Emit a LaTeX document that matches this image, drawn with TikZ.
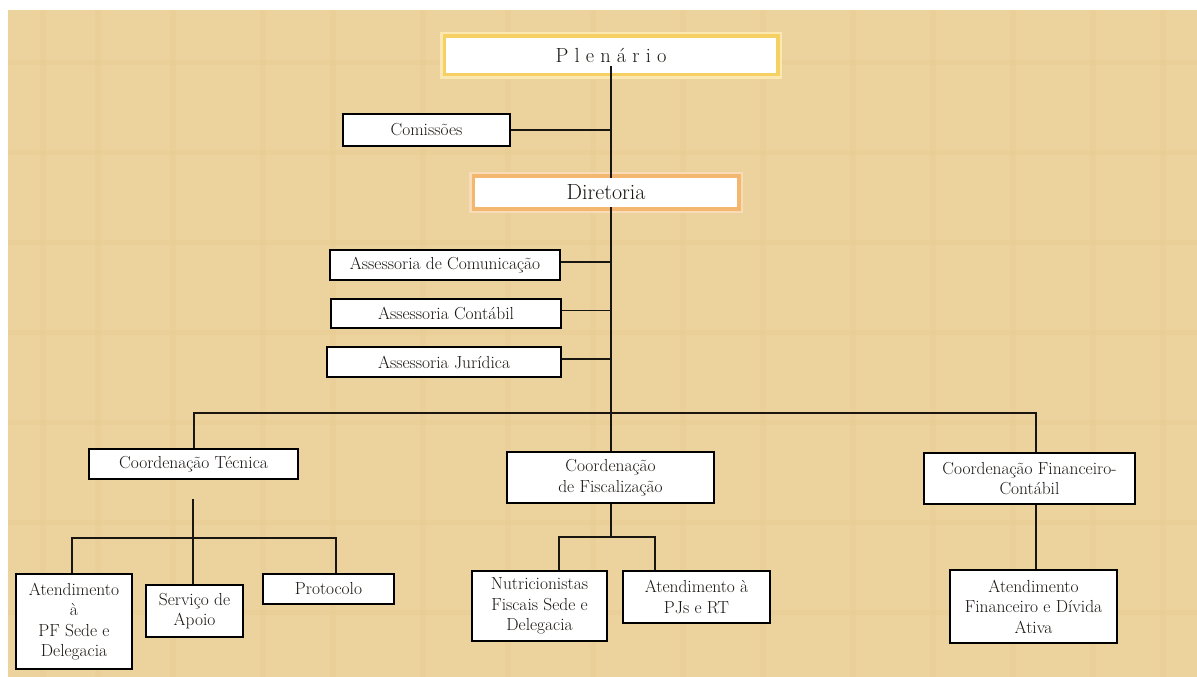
\documentclass[tikz,border=0pt]{standalone}
\usepackage{fontspec}
\definecolor{parch}{RGB}{236,210,156}
\definecolor{parchdark}{RGB}{222,188,125}
\definecolor{glowY}{RGB}{244,196,60}
\definecolor{glowO}{RGB}{240,165,75}
\definecolor{ink}{RGB}{25,22,18}
\begin{document}
\begin{tikzpicture}[x=1bp,y=-1bp,
  box/.style={draw=black, line width=1.6bp, fill=white, inner sep=2bp, align=center,
    text=ink, font=\fontsize{17.5}{20.5}\selectfont},
  glowbox/.style={fill=white, inner sep=2bp, align=center, text=ink,
    preaction={draw=#1!40, line width=12bp},
    preaction={draw=#1!80, line width=7bp}},
  conn/.style={draw=ink, line width=1.1bp}
]
\useasboundingbox (0,0) rectangle (1197,677);
\fill[white] (0,0) rectangle (1197,677);
\fill[parch] (8,10) rectangle (1197,677);
% subtle texture
\foreach \x in {40,95,170,260,330,420,505,590,680,760,850,930,1010,1090,1160}
  \fill[parchdark, opacity=0.12] (\x,10) rectangle (\x+6,677);
\foreach \y in {60,150,240,330,420,520,610}
  \fill[parchdark, opacity=0.10] (8,\y) rectangle (1197,\y+5);

% nodes
\node[glowbox=glowY, minimum width=330bp, minimum height=35bp, font=\fontsize{20.5}{24}\selectfont] (plen) at (611,55.5) {P l e n á r i o};
\node[box, minimum width=167bp, minimum height=32bp] (com) at (426.5,130) {Comissões};
\node[glowbox=glowO, minimum width=262bp, minimum height=29bp, font=\fontsize{22}{26}\selectfont] (dir) at (606,192.5) {Diretoria};
\node[box, minimum width=230bp, minimum height=30bp] (acom) at (445,265) {Assessoria de Comunicação};
\node[box, minimum width=230bp, minimum height=29bp] (acon) at (446,313.5) {Assessoria Contábil};
\node[box, minimum width=234bp, minimum height=30bp] (ajur) at (444,362) {Assessoria Jurídica};
\node[box, minimum width=209bp, minimum height=30bp] (ctec) at (193.5,464) {Coordenação Técnica};
\node[box, minimum width=207bp, minimum height=51bp] (cfis) at (610.5,477.5) {Coordenação\\de Fiscalização};
\node[box, minimum width=211bp, minimum height=51bp] (cfin) at (1029.5,478.5) {Coordenação Financeiro-\\Contábil};
\node[box, minimum width=116bp, minimum height=95bp] (atpf) at (74,621.5) {Atendimento\\à\\PF Sede e\\Delegacia};
\node[box, minimum width=97bp, minimum height=52bp] (serv) at (194.5,611) {Serviço de\\Apoio};
\node[box, minimum width=131bp, minimum height=30bp] (prot) at (328.5,589) {Protocolo};
\node[box, minimum width=135bp, minimum height=70bp] (nutr) at (539.5,606) {Nutricionistas\\Fiscais Sede e\\Delegacia};
\node[box, minimum width=147bp, minimum height=52bp] (atpj) at (696.5,597) {Atendimento à\\PJs e RT};
\node[box, minimum width=167bp, minimum height=73bp] (atfin) at (1033.5,606.5) {Atendimento\\Financeiro e Dívida\\Ativa};

% coordinates
\coordinate (sp) at (611,413);
\coordinate (bl) at (194,413);
\coordinate (br) at (1036,413);
\coordinate (ct1) at (193,499);
\coordinate (tl) at (72,538);
\coordinate (tr) at (336,538);
\coordinate (fm) at (611,537);
\coordinate (fl) at (559,537);
\coordinate (fr) at (655,537);

% connectors
\draw[conn] ([yshift=7bp]plen.south) -- (dir.north -| plen.south);
\draw[conn] (com.east) -- (com.east -| sp);
\draw[conn] (dir.south -| sp) -- (cfis.north -| sp);
\draw[conn] ([yshift=3bp]acom.east) -- ([yshift=3bp]acom.east -| sp);
\draw[conn] ([yshift=3bp]acon.east) -- ([yshift=3bp]acon.east -| sp);
\draw[conn] ([yshift=3bp]ajur.east) -- ([yshift=3bp]ajur.east -| sp);
\draw[conn] (ctec.north -| bl) -- (bl) -- (br) -- (br |- cfin.north);
\draw[conn] (ct1) -- (ct1 |- serv.north);
\draw[conn] (tl |- atpf.north) -- (tl) -- (tr) -- (tr |- prot.north);
\draw[conn] (cfis.south -| fm) -- (fm);
\draw[conn] (fl |- nutr.north) -- (fl) -- (fr) -- (fr |- atpj.north);
\draw[conn] (cfin.south -| br) -- (br |- atfin.north);
\end{tikzpicture}
\end{document}
